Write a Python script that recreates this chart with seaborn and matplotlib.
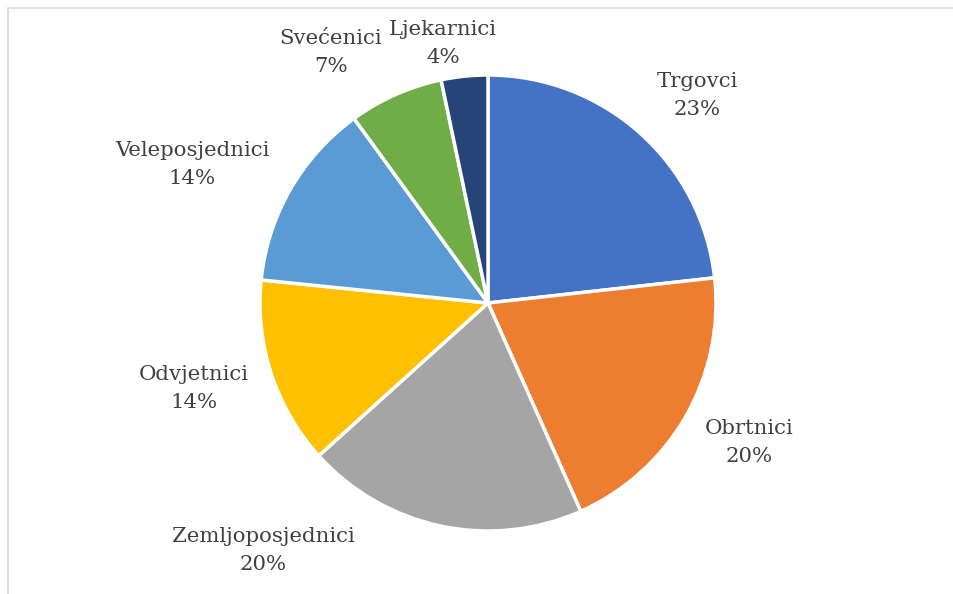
import matplotlib
matplotlib.use("Agg")
import matplotlib.pyplot as plt
import seaborn as sns
from matplotlib.patches import Rectangle

# Data (slice sizes; labels as printed)
categories = ["Trgovci", "Obrtnici", "Zemljoposjednici", "Odvjetnici",
              "Veleposjednici", "Svećenici", "Ljekarnici"]
shares = [23.25, 20.1, 20.0, 13.3, 13.4, 6.7, 3.3]
pct_labels = ["23%", "20%", "20%", "14%", "14%", "7%", "4%"]
colors = ["#4472C4", "#ED7D31", "#A5A5A5", "#FFC000", "#5B9BD5", "#70AD47", "#264478"]

# Layout: label centres (pixel coords, y from top)
label_pos = [(697, 95), (749, 442), (263, 550), (194, 389),
             (192, 164), (331, 52), (443, 43)]

sns.set_theme(style="white")
plt.rcParams['font.family'] = ['DejaVu Serif', 'DejaVu Sans']

W, H = 954, 594
fig = plt.figure(figsize=(W / 100, H / 100), dpi=100)
fig.patch.set_facecolor("white")
ax = fig.add_axes([0, 0, 1, 1])

ax.pie(shares, colors=sns.color_palette(colors), startangle=90, counterclock=False,
       center=(488, H - 303), radius=228,
       wedgeprops=dict(edgecolor="white", linewidth=2.5))
ax.set_xlim(0, W)
ax.set_ylim(0, H)
ax.set_aspect("equal")
ax.set_axis_off()

# chart border (partially cropped)
fig.patches.append(Rectangle((8.5 / W, -0.1), 1.2, (H - 8.5) / H + 0.1,
                             transform=fig.transFigure, fill=False,
                             edgecolor="#d9d9d9", linewidth=1.2))

for cat, pct, (x, y) in zip(categories, pct_labels, label_pos):
    ax.text(x, H - y, f"{cat}\n{pct}", ha="center", va="center",
            fontsize=15.3, color="#404040", linespacing=1.6)

fig.savefig("out.png", dpi=100, facecolor="white")
